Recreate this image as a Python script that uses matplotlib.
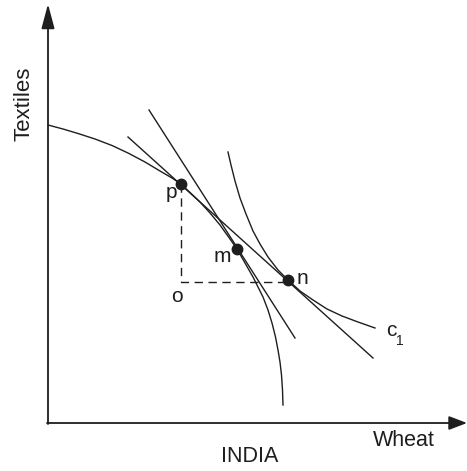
import matplotlib
matplotlib.use("Agg")
from matplotlib import pyplot as plt

# curves (pixel coords, y downwards)
ppf_x = [48, 63, 78, 95, 112, 128, 145, 160, 172, 181, 190, 200, 210, 220, 230, 237, 245, 253,
         263, 268, 272, 275.5, 278, 280, 281.5, 282.5, 283]
ppf_y = [125, 129, 133.5, 139, 145.5, 153, 162, 171, 178, 184, 192.5, 202, 213, 225, 239, 249, 263, 277,
         297, 310, 323, 337, 350, 362, 375, 390, 405]

ic_x = [228, 231, 235, 240, 246, 253, 260, 268, 278, 288, 300, 313, 327, 342, 358, 375]
ic_y = [152, 165, 181, 198, 214, 231, 244, 257, 270, 280, 291, 300, 309, 316, 322, 328]

trade_x = [128, 373]
trade_y = [137, 358]
mline_x = [149, 295]
mline_y = [110, 338]

pts_name = ["p", "m", "n"]
pts_x = [181, 237, 288]
pts_y = [184, 249, 280]

o_x, o_y = 181, 282

ink = "#1e1e1e"
plt.rcParams["font.family"] = ["Liberation Sans", "DejaVu Sans"]

fig = plt.figure(figsize=(4.67, 4.71), dpi=100)
ax = fig.add_axes([0, 0, 1, 1])
ax.set_xlim(0, 467)
ax.set_ylim(471, 0)
ax.axis("off")

# axes with arrows
ax.annotate("", xy=(48, 4), xytext=(48, 424),
            arrowprops=dict(arrowstyle="-|>,head_length=1.5,head_width=0.4",
                            lw=1.3, color=ink, shrinkA=0, shrinkB=0))
ax.annotate("", xy=(467, 423), xytext=(47, 423),
            arrowprops=dict(arrowstyle="-|>,head_length=1.1,head_width=0.42",
                            lw=1.3, color=ink, shrinkA=0, shrinkB=0))

ax.plot(ppf_x, ppf_y, color=ink, lw=1.0, solid_joinstyle="round")
ax.plot(ic_x, ic_y, color=ink, lw=1.0, solid_joinstyle="round")
ax.plot(trade_x, trade_y, color=ink, lw=1.0)
ax.plot(mline_x, mline_y, color=ink, lw=1.0)

# dashed lines p -> o -> n
ax.plot([pts_x[0], o_x, pts_x[2]], [pts_y[0], o_y, o_y], color=ink, lw=1.0,
        linestyle=(0, (6, 4)))

ax.plot(pts_x, pts_y, "o", color=ink, markersize=7.5, zorder=5)

ax.text(171, 193, "p", fontsize=15, ha="center", va="center", color=ink)
ax.text(222, 257, "m", fontsize=15, ha="center", va="center", color=ink)
ax.text(302, 278, "n", fontsize=15, ha="center", va="center", color=ink)
ax.text(177, 296, "o", fontsize=15, ha="center", va="center", color=ink)
ax.text(391, 331, "c", fontsize=15, ha="center", va="center", color=ink)
ax.text(400, 341, "1", fontsize=10, ha="center", va="center", color=ink)

ax.text(24, 104, "Textiles", fontsize=16, rotation=90, ha="center", va="center", color=ink)
ax.text(404, 440, "Wheat", fontsize=15.5, ha="center", va="center", color=ink)
ax.text(250, 456, "INDIA", fontsize=15.5, ha="center", va="center", color=ink)

fig.savefig("out.png", dpi=100)
